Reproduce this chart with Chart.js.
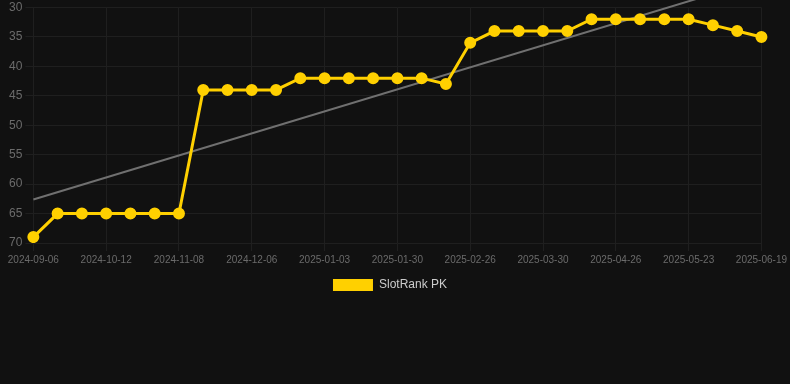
<!DOCTYPE html>
<html>
<head>
<meta charset="utf-8">
<script src="https://cdn.jsdelivr.net/npm/chart.js@4/dist/chart.umd.min.js"></script>
<style>
  html, body { margin:0; padding:0; background:#111111; }
  #wrap { position:relative; width:790px; height:301px; }
</style>
</head>
<body>
<div id="wrap"><canvas id="chart"></canvas></div>
<script>
const C = { yellow:'#ffd000', trend:'#707070', grid:'#1f1f1f', tick:'#6b6b6b', legend:'#cccccc', bg:'#111111' };
Chart.defaults.font.family = "'Liberation Sans', Arial, sans-serif";

// ── DATA ─────────────────────────────────────────────────────────────
const dates = ['2024-09-06','2024-09-18','2024-09-30','2024-10-12','2024-10-21','2024-10-30','2024-11-08',
               '2024-11-17','2024-11-27','2024-12-06','2024-12-15','2024-12-24','2025-01-03','2025-01-12',
               '2025-01-21','2025-01-30','2025-02-08','2025-02-17','2025-02-26','2025-03-08','2025-03-19',
               '2025-03-30','2025-04-08','2025-04-17','2025-04-26','2025-05-05','2025-05-14','2025-05-23',
               '2025-06-01','2025-06-10','2025-06-19'];
const rank  = [69,65,65,65,65,65,65,44,44,44,44,42,42,42,42,42,42,43,36,34,34,34,34,32,32,32,32,32,33,34,35];
// trend line, read at both ends
const trend = [62.6,null,null,null,null,null,null,null,null,null,null,null,null,null,null,null,
               null,null,null,null,null,null,null,null,null,null,null,null,null,null,25.2];
const yMin = 30, yMax = 70, yStep = 5;

new Chart(document.getElementById('chart'), {
  type:'line',
  data:{ labels:dates, datasets:[
    { label:'SlotRank PK', data:rank, borderColor:C.yellow, backgroundColor:C.yellow,
      pointBackgroundColor:C.yellow, pointBorderColor:C.yellow, pointRadius:4.5, borderWidth:3, tension:0 },
    { label:'trend', data:trend, borderColor:C.trend, borderWidth:2, pointRadius:0, spanGaps:true, clip:false }
  ]},
  options:{ responsive:true, maintainAspectRatio:false, animation:false,
    layout:{ padding:{ left:6, right:16 } },
    plugins:{
      legend:{ position:'bottom', labels:{ color:C.legend, boxWidth:40, boxHeight:12, font:{ size:12 },
        generateLabels:ch => Chart.defaults.plugins.legend.labels.generateLabels(ch)
          .filter(l => l.text !== 'trend').map(l => ({ ...l, lineWidth:0 })) } },
      tooltip:{ enabled:false }
    },
    scales:{
      y:{ reverse:true, min:yMin, max:yMax, grid:{ color:C.grid }, border:{ color:C.grid },
          ticks:{ stepSize:yStep, color:C.tick, font:{ size:12, lineHeight:0.5 } } },
      x:{ grid:{ color:C.grid }, border:{ color:C.grid },
          ticks:{ color:C.tick, font:{ size:10 }, maxRotation:0 } }
    }
  }
});
</script>
</body>
</html>
